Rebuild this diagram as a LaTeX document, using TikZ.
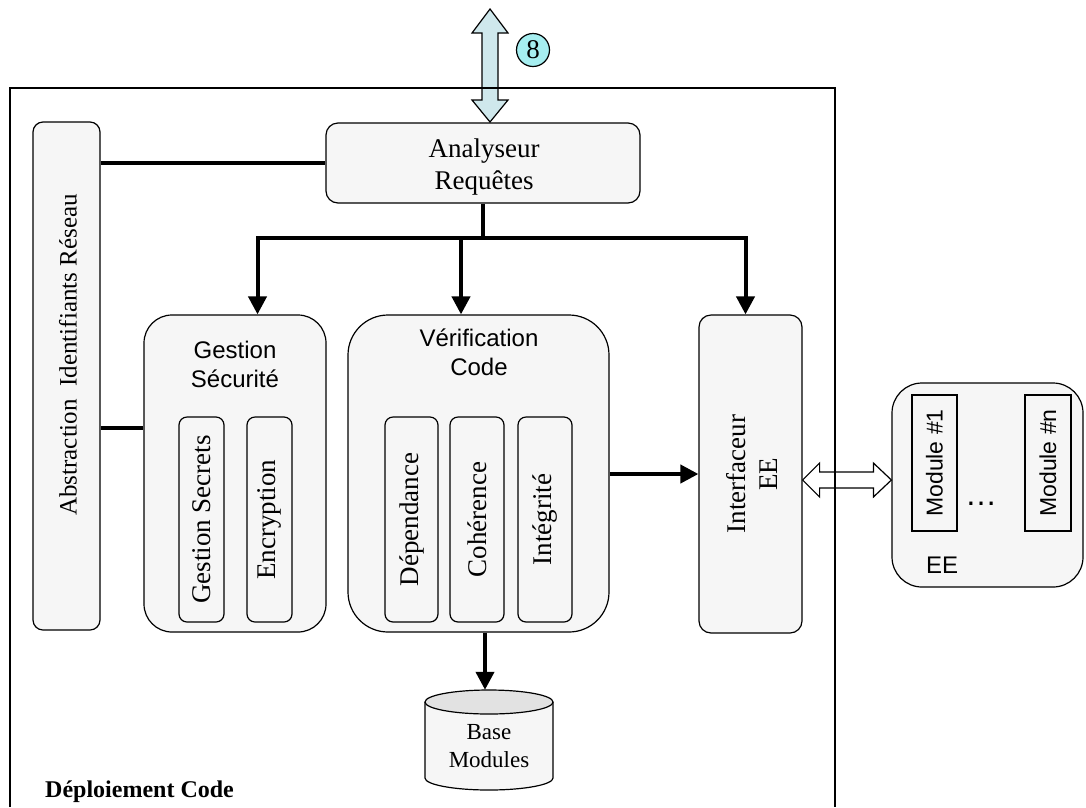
\documentclass[tikz,border=0pt]{standalone}
\usepackage{fontspec}
\setmainfont{Liberation Serif}
\newfontfamily\arialf{Liberation Sans}
\usetikzlibrary{arrows.meta,calc}
\definecolor{boxfill}{HTML}{F6F6F6}
\definecolor{topfill}{HTML}{E2E2E2}
\definecolor{arrfill}{HTML}{CFE8EC}
\definecolor{circfill}{HTML}{A6EEF0}
\begin{document}
\begin{tikzpicture}[x=1pt,y=-1pt,
  box/.style={draw, line width=1.2pt, fill=boxfill, inner sep=0pt},
  tm/.style={font=\fontsize{27}{32}\selectfont, align=center, inner sep=0pt},
  ar/.style={font=\arialf\fontsize{24}{29}\selectfont, align=center, inner sep=0pt},
  conn/.style={line width=4pt},
  arr/.style={line width=4pt, -{Triangle[length=18pt,width=18pt]}},
  dblarr/.style={line width=4pt, line join=miter, {Triangle[length=18pt,width=18pt]}-{Triangle[length=18pt,width=18pt]}},
]
\useasboundingbox (0,0) rectangle (1086,807);

% top double arrow (external request)
\draw[fill=arrfill, line width=1.2pt] (490,9) -- (508,33) -- (498,33) -- (498,100) -- (508,100) -- (490,122)
  -- (472,100) -- (482,100) -- (482,33) -- (472,33) -- cycle;
\node[circle, draw, line width=1.2pt, fill=circfill, minimum size=33pt, inner sep=0pt,
  font=\fontsize{27}{32}\selectfont] (n8) at (533,50) {8};

% Analyseur
\node[box, rounded corners=12pt, minimum width=314pt, minimum height=80pt] (ana) at (483,163) {};
\node[tm] (anat) at (484,166.5) {Analyseur\\Requêtes};

% Abstraction
\node[box, rounded corners=10pt, minimum width=67pt, minimum height=508pt] (abs) at (66.5,376) {};
\node[tm, rotate=90, font=\fontsize{25}{30}\selectfont] (abst) at (68,355) {Abstraction\ \ Identifiants Réseau};

% Gestion Securite
\node[box, rounded corners=28pt, minimum width=182pt, minimum height=317pt] (ges) at (235,473.5) {};
\node[ar] (gest) at (235,364) {Gestion\\Sécurité};
\node[box, rounded corners=8pt, minimum width=45pt, minimum height=205pt] (gs) at (201.5,519.5) {};
\node[tm, rotate=90] (gst) at (gs.center) {Gestion Secrets};
\node[box, rounded corners=8pt, minimum width=45pt, minimum height=205pt] (enc) at (269.5,519.5) {};
\node[tm, rotate=90] (enct) at (enc.center) {Encryption};

% Verification Code
\node[box, rounded corners=40pt, minimum width=261pt, minimum height=317pt] (ver) at (478.5,473.5) {};
\node[ar] (vert) at (479,352) {Vérification\\Code};
\node[box, rounded corners=8pt, minimum width=53pt, minimum height=205pt] (dep) at (411.5,519.5) {};
\node[tm, rotate=90] (dept) at (dep.center) {Dépendance};
\node[box, rounded corners=8pt, minimum width=54pt, minimum height=205pt] (coh) at (477,519.5) {};
\node[tm, rotate=90] (coht) at (coh.center) {Cohérence};
\node[box, rounded corners=8pt, minimum width=54pt, minimum height=205pt] (integ) at (545,519.5) {};
\node[tm, rotate=90] (integt) at (integ.center) {Intégrité};

% Interfaceur EE
\node[box, rounded corners=12pt, minimum width=103pt, minimum height=318pt] (int) at (750.5,474) {};
\node[tm, rotate=90] (intt) at (752,474) {Interfaceur\\EE};

% Base Modules cylinder
\node[minimum width=128pt, minimum height=100pt, inner sep=0pt] (db) at (489,740) {};
\draw[fill=boxfill, line width=1.2pt] (425,702) -- (425,778)
  arc[start angle=180, end angle=0, x radius=64, y radius=12] -- (553,702);
\draw[fill=topfill, line width=1.2pt] (489,702) ellipse[x radius=64, y radius=12];
\node[font=\fontsize{23}{28}\selectfont, align=center, inner sep=0pt] (dbt) at (489,746.5) {Base\\Modules};

% EE (external)
\node[box, rounded corners=30pt, minimum width=191pt, minimum height=204pt] (ee) at (987.5,485) {};
\node[draw, line width=1.2pt, fill=boxfill, minimum width=45pt, minimum height=136pt, inner sep=0pt] (m1) at (934.5,463) {};
\node[ar, rotate=90, font=\arialf\fontsize{23}{28}\selectfont] (m1t) at (m1.center) {Module \#1};
\node[draw, line width=1.2pt, fill=boxfill, minimum width=46pt, minimum height=136pt, inner sep=0pt] (mn) at (1048,463) {};
\node[ar, rotate=90, font=\arialf\fontsize{23}{28}\selectfont] (mnt) at (mn.center) {Module \#n};
\node[ar, anchor=base, font=\arialf\fontsize{32}{36}\selectfont] (dots) at (981,505) {…};
\node[ar, anchor=base] (eet) at (942,573) {EE};

% connectors
\coordinate (y1) at (0,163);
\coordinate (y2) at (0,428);
\draw[line width=3.5pt] (abs.east |- y1) -- (ana.west |- y1);
\draw[line width=3.5pt] (abs.east |- y2) -- (ges.west |- y2);

\coordinate (hl) at (257.5,238);
\coordinate (hm) at (461,238);
\coordinate (hr) at (745.5,238);
\draw[conn] (ana.south) -- (ana.south |- hl);
\draw[dblarr] (hl |- ges.north) -- (hl) -- (hr) -- (hr |- int.north);
\draw[arr] (hm) -- (hm |- ver.north);

\coordinate (ya) at (0,474);
\draw[arr] (ver.east |- ya) -- (int.west |- ya);
\coordinate (xb) at (485,0);
\draw[arr] (ver.south -| xb) -- (db.north -| xb);

% hollow double arrow Interfaceur <-> EE
\coordinate (ha) at (int.east |- 0,480);
\coordinate (hb) at (ee.west |- 0,480);
\draw[fill=white, line width=1.2pt] (ha) -- ++(17,-17) -- ++(0,9) -- ($(hb)+(-18,-8)$) -- ++(0,-9) -- (hb)
  -- ++(-18,17) -- ++(0,-9) -- ($(ha)+(17,8)$) -- ++(0,9) -- cycle;

% frame
\draw[line width=2.2pt] (10,807) -- (10,88) -- (835,88) -- (835,807);
\node[font=\bfseries\fontsize{24}{28}\selectfont, anchor=base west, inner sep=0pt] (dc) at (45,797) {Déploiement Code};
\end{tikzpicture}
\end{document}
